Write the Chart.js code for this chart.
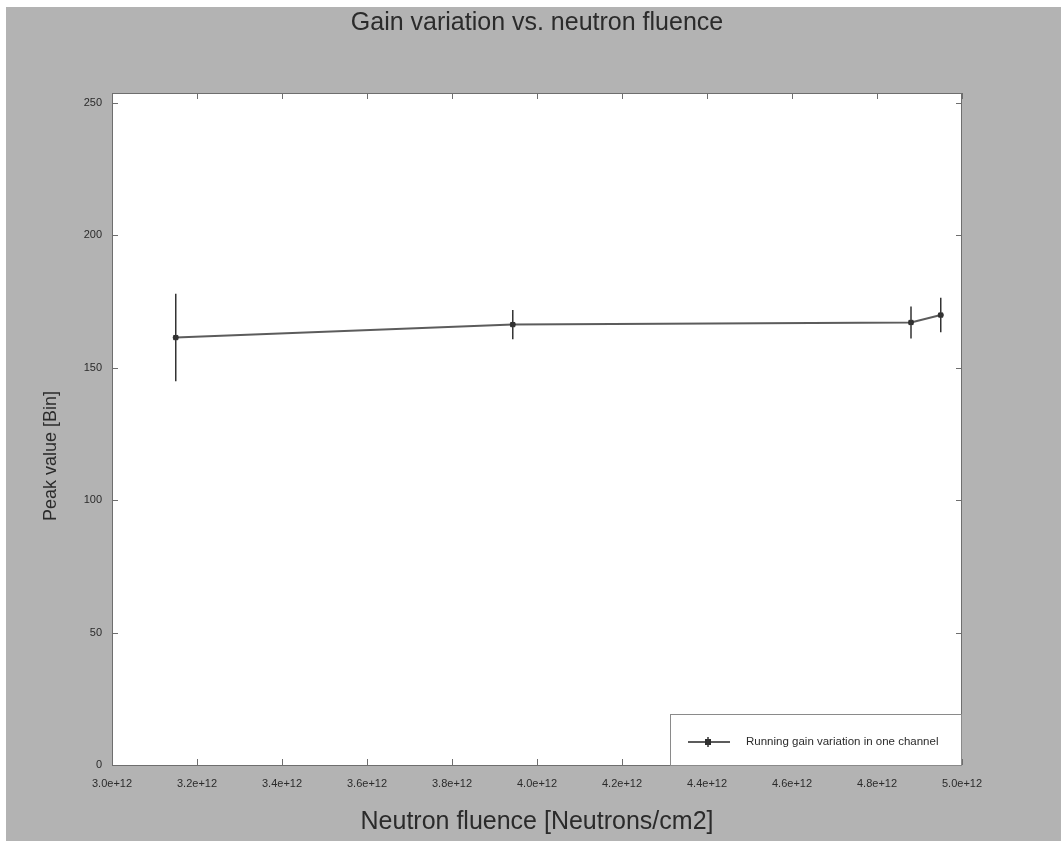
<!DOCTYPE html>
<html>
<head>
<meta charset="utf-8">
<script src="https://cdn.jsdelivr.net/npm/chart.js@4.4.0/dist/chart.umd.min.js"></script>
<style>
  html, body { margin: 0; padding: 0; background: #ffffff; }
  #c { display: block; }
</style>
</head>
<body>
<canvas id="c" width="1061" height="841"></canvas>
<script>
// Measured gain peak per fluence step (one readout channel)
const fluence   = [3.150e12, 3.943e12, 4.880e12, 4.950e12];
const peakValue = [161.3, 166.2, 167.0, 169.8];
const peakError = [16.5, 5.5, 6.0, 6.5];

const xTickValues = [3.0e12, 3.2e12, 3.4e12, 3.6e12, 3.8e12, 4.0e12, 4.2e12, 4.4e12, 4.6e12, 4.8e12, 5.0e12];
const yTickValues = [0, 50, 100, 150, 200, 250];
const yRange = [0, 253.6];

const chartTitle  = 'Gain variation vs. neutron fluence';
const xAxisTitle  = 'Neutron fluence [Neutrons/cm2]';
const yAxisTitle  = 'Peak value [Bin]';
const seriesLabel = 'Running gain variation in one channel';

const FONT = "'Liberation Sans', Arial, sans-serif";
const TEXT = '#2b2b2b';
const FRAME = '#6e6e6e';

// Grey page, white plotting frame
const backdrop = {
  id: 'backdrop',
  beforeDraw(chart) {
    const { ctx, chartArea: a } = chart;
    ctx.save();
    ctx.fillStyle = '#ffffff';
    ctx.fillRect(0, 0, chart.width, chart.height);
    ctx.fillStyle = '#b3b3b3';
    ctx.fillRect(6, 7, chart.width - 6, chart.height - 7);
    ctx.fillStyle = '#ffffff';
    ctx.fillRect(a.left, a.top, a.right - a.left, a.bottom - a.top);
    ctx.restore();
  }
};

// Frame, inward tick marks on all four sides, heading and vertical axis title
const frameAndTicks = {
  id: 'frameAndTicks',
  afterDraw(chart) {
    const { ctx, chartArea: a, scales } = chart;
    const len = 6;
    ctx.save();
    ctx.strokeStyle = FRAME;
    ctx.lineWidth = 1;
    ctx.strokeRect(a.left + 0.5, a.top + 0.5, a.right - a.left - 1, a.bottom - a.top);
    ctx.beginPath();
    scales.x.ticks.forEach((t, i) => {
      const px = Math.round(scales.x.getPixelForTick(i)) + 0.5;
      ctx.moveTo(px, a.bottom); ctx.lineTo(px, a.bottom - len);
      ctx.moveTo(px, a.top);    ctx.lineTo(px, a.top + len);
    });
    scales.y.ticks.forEach((t, i) => {
      const py = Math.round(scales.y.getPixelForTick(i)) + 0.5;
      ctx.moveTo(a.left, py);  ctx.lineTo(a.left + len, py);
      ctx.moveTo(a.right, py); ctx.lineTo(a.right - len, py);
    });
    ctx.stroke();

    ctx.fillStyle = TEXT;
    ctx.textAlign = 'center';
    ctx.textBaseline = 'middle';
    ctx.font = `25px ${FONT}`;
    ctx.fillText(chartTitle, (a.left + a.right) / 2, 23);

    ctx.font = `18px ${FONT}`;
    ctx.translate(51, 456);
    ctx.rotate(-Math.PI / 2);
    ctx.fillText(yAxisTitle, 0, 0);
    ctx.restore();
  }
};

// Vertical error bars from the peakError array
const errorBars = {
  id: 'errorBars',
  afterDatasetsDraw(chart) {
    const { ctx, scales } = chart;
    ctx.save();
    ctx.strokeStyle = '#333333';
    ctx.lineWidth = 1.5;
    ctx.beginPath();
    fluence.forEach((f, i) => {
      const px = scales.x.getPixelForValue(f);
      const lo = scales.y.getPixelForValue(peakValue[i] - peakError[i]);
      const hi = scales.y.getPixelForValue(peakValue[i] + peakError[i]);
      ctx.moveTo(px, lo); ctx.lineTo(px, hi);
      ctx.moveTo(px - 3, scales.y.getPixelForValue(peakValue[i]));
      ctx.lineTo(px + 3, scales.y.getPixelForValue(peakValue[i]));
    });
    ctx.stroke();
    ctx.restore();
  }
};

// Boxed legend in the lower-right corner of the plot
const cornerLegend = {
  id: 'cornerLegend',
  afterDraw(chart) {
    const { ctx, chartArea: a } = chart;
    const ds = chart.data.datasets[0];
    const w = 292, h = 51;
    const x = a.right - w, y = a.bottom - h;
    ctx.save();
    ctx.fillStyle = '#ffffff';
    ctx.fillRect(x, y, w, h);
    ctx.strokeStyle = '#8a8a8a';
    ctx.lineWidth = 1;
    ctx.strokeRect(x + 0.5, y + 0.5, w - 1, h);
    const my = y + 28;
    ctx.strokeStyle = ds.borderColor;
    ctx.lineWidth = ds.borderWidth;
    ctx.beginPath();
    ctx.moveTo(x + 18, my); ctx.lineTo(x + 60, my);
    ctx.stroke();
    ctx.fillStyle = ds.pointBackgroundColor;
    ctx.fillRect(x + 35, my - 3, 6, 6);
    ctx.strokeStyle = '#333333';
    ctx.lineWidth = 1.5;
    ctx.beginPath();
    ctx.moveTo(x + 38, my - 5); ctx.lineTo(x + 38, my + 5);
    ctx.stroke();
    ctx.fillStyle = TEXT;
    ctx.font = `11.5px ${FONT}`;
    ctx.textAlign = 'left';
    ctx.textBaseline = 'middle';
    ctx.fillText(ds.label, x + 76, my);
    ctx.restore();
  }
};

new Chart(document.getElementById('c'), {
  type: 'scatter',
  data: {
    datasets: [{
      label: seriesLabel,
      data: fluence.map((f, i) => ({ x: f, y: peakValue[i] })),
      showLine: true,
      borderColor: '#5c5c5c',
      borderWidth: 2,
      pointStyle: 'rect',
      pointRadius: 3,
      pointBackgroundColor: '#2e2e2e',
      pointBorderColor: '#2e2e2e',
      pointBorderWidth: 1
    }]
  },
  options: {
    responsive: false,
    animation: false,
    devicePixelRatio: 1,
    layout: { padding: { left: 0, right: 99, top: 93, bottom: 0 } },
    plugins: {
      legend: { display: false },
      title: { display: false },
      tooltip: { enabled: false }
    },
    scales: {
      x: {
        type: 'linear',
        min: xTickValues[0],
        max: xTickValues[xTickValues.length - 1],
        afterBuildTicks(scale) { scale.ticks = xTickValues.map(v => ({ value: v })); },
        afterFit(scale) { scale.height = 76; },
        grid: { display: false, drawTicks: false },
        border: { display: false },
        ticks: {
          color: TEXT,
          font: { family: FONT, size: 11 },
          padding: 12,
          maxRotation: 0,
          autoSkip: false,
          callback: v => Number(v).toExponential(1)
        },
        title: {
          display: true,
          text: xAxisTitle,
          color: TEXT,
          font: { family: FONT, size: 25 },
          padding: { top: 0, bottom: 4 }
        }
      },
      y: {
        type: 'linear',
        min: yRange[0],
        max: yRange[1],
        afterBuildTicks(scale) { scale.ticks = yTickValues.map(v => ({ value: v })); },
        afterFit(scale) { scale.width = 112; },
        grid: { display: false, drawTicks: false },
        border: { display: false },
        ticks: {
          color: TEXT,
          font: { family: FONT, size: 11 },
          padding: 10,
          autoSkip: false
        }
      }
    }
  },
  plugins: [backdrop, errorBars, frameAndTicks, cornerLegend]
});
</script>
</body>
</html>
